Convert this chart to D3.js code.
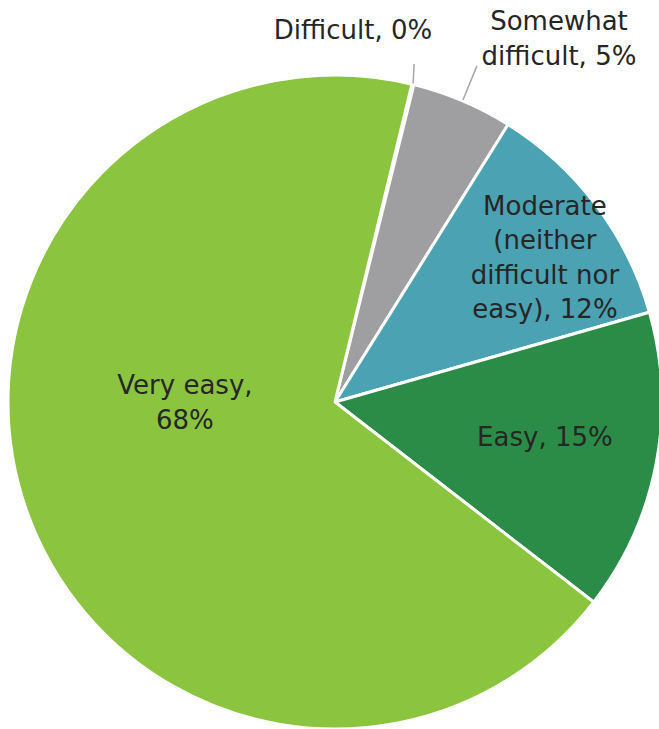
<!DOCTYPE html>
<html>
<head>
<meta charset="utf-8">
<script src="https://cdn.jsdelivr.net/npm/d3@7"></script>
<style>
  html, body { margin: 0; padding: 0; background: #ffffff; }
  svg { display: block; }
</style>
</head>
<body>
<svg id="chart" width="659" height="729"></svg>
<script>
// ---- data ----
const categories = ["Difficult", "Somewhat difficult", "Moderate (neither difficult nor easy)", "Easy", "Very easy"];
const values = [0.1, 5.0, 11.7, 14.9, 68.3];
const labelLines = [
  ["Difficult, 0%"],
  ["Somewhat", "difficult, 5%"],
  ["Moderate", "(neither", "difficult nor", "easy), 12%"],
  ["Easy, 15%"],
  ["Very easy,", "68%"]
];
const colors = ["#5a5a5a", "#9f9fa1", "#4aa2b2", "#2a8c47", "#8bc43f"];

// ---- layout (not data) ----
const W = 659, H = 729;
const cx = 335, cy = 402, R = 327;
const startDeg = 13.6;
// label block centres relative to pie centre, in units of radius
const labelPos = [
  [0.055, -1.138],
  [0.685, -1.113],
  [0.642, -0.443],
  [0.642, 0.107],
  [-0.459, 0.0]
];
// leader line end points (relative to centre, units of radius); null = no leader
const leaderEnd = [
  [0.242, -1.034],
  [0.434, -1.028],
  null, null, null
];
const fontSize = 26, lineH = 34.5;

const svg = d3.select("#chart");
const g = svg.append("g").attr("transform", `translate(${cx},${cy})`);

const data = categories.map((c, i) => ({ cat: c, value: values[i], lines: labelLines[i], color: colors[i] }));

const pie = d3.pie().sort(null).value(d => d.value)
  .startAngle(startDeg * Math.PI / 180)
  .endAngle(startDeg * Math.PI / 180 + 2 * Math.PI);
const arcs = pie(data);
const arc = d3.arc().innerRadius(0).outerRadius(R);

g.selectAll("path.slice").data(arcs).join("path")
  .attr("class", "slice")
  .attr("d", arc)
  .attr("fill", d => d.data.color)
  .attr("stroke", "#ffffff")
  .attr("stroke-width", 3)
  .attr("stroke-linejoin", "round");

// leader lines
arcs.forEach((a, i) => {
  if (!leaderEnd[i]) return;
  const mid = (a.startAngle + a.endAngle) / 2;
  const x1 = (R + 1) * Math.sin(mid), y1 = -(R + 1) * Math.cos(mid);
  g.append("line")
    .attr("x1", x1).attr("y1", y1)
    .attr("x2", leaderEnd[i][0] * R).attr("y2", leaderEnd[i][1] * R)
    .attr("stroke", "#a6a6a6").attr("stroke-width", 1.5);
});

// labels
arcs.forEach((a, i) => {
  const lines = a.data.lines;
  const bx = labelPos[i][0] * R, by = labelPos[i][1] * R;
  const t = g.append("text")
    .attr("text-anchor", "middle")
    .attr("font-family", "'DejaVu Sans', sans-serif")
    .attr("font-size", fontSize)
    .attr("fill", "#262626");
  const n = lines.length;
  lines.forEach((ln, k) => {
    t.append("tspan")
      .attr("x", bx)
      .attr("y", by + (k - (n - 1) / 2) * lineH)
      .attr("dy", "0.36em")
      .text(ln);
  });
});
</script>
</body>
</html>
